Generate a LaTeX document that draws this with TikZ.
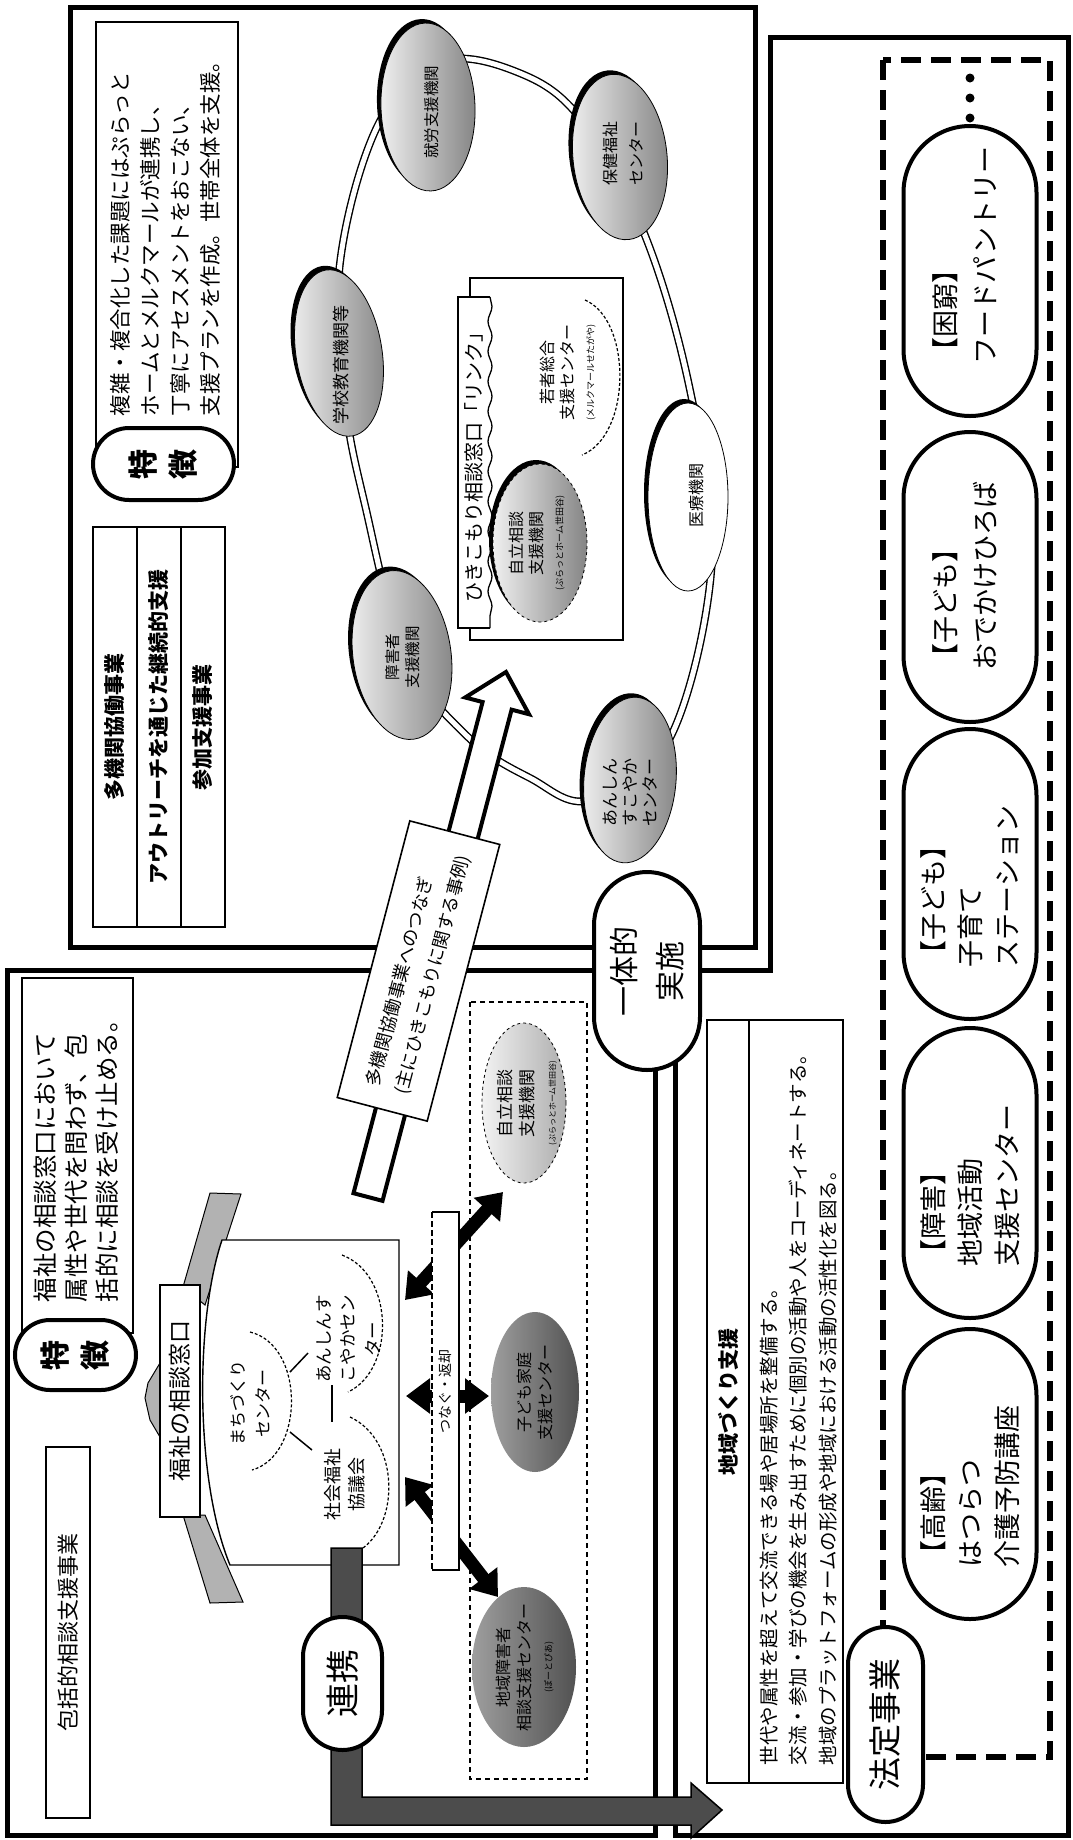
\documentclass[tikz,border=0pt]{standalone}
\usepackage{fontspec}
\setmainfont{Noto Sans CJK JP}
\usetikzlibrary{shapes.geometric,shapes.misc,shadows,calc,arrows.meta,decorations.pathmorphing}
\newcommand{\myfs}[2]{\fontsize{#1pt}{#2pt}\selectfont}
\begin{document}
\begin{tikzpicture}[x=1pt,y=-1pt,
  every node/.style={inner sep=0pt,outer sep=0pt},
  frame/.style={draw,line width=5pt},
  thinbox/.style={draw,line width=1.6pt,fill=white},
  stad/.style={rounded rectangle,draw,line width=4pt,fill=white},
  tx/.style={rotate=90,align=center},
  stipbase/.style={ellipse,draw=black,line width=0.8pt,
    drop shadow={shadow xshift=-4pt,shadow yshift=4pt,fill=black,opacity=1}},
  stip/.style={stipbase,left color=black!6,right color=black!48},
  darkell/.style={ellipse,left color=black!38,right color=black!68},
  blk/.style={line width=13pt,{Triangle[length=24pt,width=34pt]}-{Triangle[length=24pt,width=34pt]}},
  dashbig/.style={line width=6pt,dash pattern=on 20pt off 10pt},
  dashthin/.style={line width=1.2pt,dash pattern=on 5pt off 4pt}
]
\fill[white] (0,0) rectangle (1073,1840);
\useasboundingbox (0,0) rectangle (1073,1840);

% ---------- frames ----------
\draw[frame] (70,7) rectangle (755,947);
\draw[frame] (7,970) rectangle (655,1835);
\draw[frame] (770,37) -- (1068,37) -- (1068,1835) -- (675,1835) -- (675,970) -- (770,970) -- cycle;

% ---------- box A : multi-agency ----------
\node[thinbox,minimum width=142pt,minimum height=445pt] (featA) at (167,244.5) {};
\node[stad,minimum width=141pt,minimum height=72pt] (tokA) at (163.5,464) {};
\node[tx,font={\myfs{30}{40}\bfseries}] at (tokA) {特\\徴};
\node[tx,anchor=west,align=left,font=\myfs{21.5}{30}] (featAtext) at (165,416)
 {複雑・複合化した課題にはぷらっと\\ホームとメルクマールが連携し、\\丁寧にアセスメントをおこない、\\支援プランを作成。世帯全体を支援。};

\node[draw,line width=1.6pt,rotate=90,minimum width=400pt,minimum height=44pt,font={\myfs{21}{24}\bfseries}] (tab1) at (115,727) {多機関協働事業};
\node[draw,line width=1.6pt,rotate=90,minimum width=400pt,minimum height=44pt,font={\myfs{21}{24}\bfseries}] (tab2) at (159,727) {アウトリーチを通じた継続的支援};
\node[draw,line width=1.6pt,rotate=90,minimum width=400pt,minimum height=44pt,font={\myfs{21}{24}\bfseries}] (tab3) at (203,727) {参加支援事業};

% ring
\draw[line width=1.4pt,double=white,double distance=5pt]
  plot[smooth cycle,tension=0.6] coordinates {(340,263) (378,125) (440,62) (517,72) (580,118) (644,233) (690,390) (712,560) (670,738) (590,800) (530,778) (468,737) (405,655) (365,505) (345,400)};

\node[stip,rotate=2,minimum width=94pt,minimum height=168pt] (shuro) at (428,107) {};
\node[tx,font=\myfs{15.5}{20}] at (432,112) {就労支援機関};
\node[stip,rotate=6,minimum width=94pt,minimum height=166pt] (hoken) at (620,157) {};
\node[tx,font=\myfs{16}{26}] at (623,153) {保健福祉\\センター};
\node[stip,rotate=9,minimum width=86pt,minimum height=168pt] (gakko) at (339,353) {};
\node[tx,font=\myfs{17}{22}] at (341,365) {学校教育機関等};
\node[stip,rotate=8,minimum width=98pt,minimum height=170pt] (shogai) at (402,655) {};
\node[tx,font=\myfs{15.5}{20}] at (403,657) {障害者\\支援機関};
\node[stip,rotate=-5,minimum width=92pt,minimum height=166pt] (anshin) at (630,780) {};
\node[tx,font=\myfs{17}{20}] at (630,792) {あんしん\\すこやか\\センター};
\node[stipbase,fill=white,minimum width=80pt,minimum height=188pt] (iryo) at (688,497) {};
\node[tx,font=\myfs{16}{20}] at (696,495) {医療機関};

% hikikomori box
\node[thinbox,minimum width=153pt,minimum height=362pt] (hkbox) at (546.5,459) {};
\node[fill=white,rotate=90,minimum width=331pt,minimum height=32pt,font=\myfs{20}{24}] (hklabel) at (474,462.5) {ひきこもり相談窓口「リンク」};
\draw[line width=1.6pt] (hklabel.south west) -- (hklabel.north west) -- (hklabel.north east) -- (hklabel.south east);
\draw[line width=1.3pt,decorate,decoration={snake,segment length=30pt,amplitude=2pt}] (hklabel.south east) -- (hklabel.south west);
\node[stip,dashed,minimum width=94pt,minimum height=158pt] (jiritsuA) at (540,543) {};
\node[tx,font=\myfs{16}{20}] at (537,543) {自立相談\\支援機関\\{\myfs{9}{12}(ぷらっとホーム世田谷)}};
\draw[densely dashed,line width=1.2pt] (585,300) .. controls (632,320) and (632,435) .. (582,455);
\node[tx,font=\myfs{16}{20}] at (568,372) {若者総合\\支援センター\\{\myfs{9}{12}(メルクマールせたがや)}};

% ---------- hollow arrow ----------
\coordinate (arS) at (368,1197);
\coordinate (arT) at (506,672);
\coordinate (arB) at ($(arT)!35pt!(arS)$);
\draw[line width=4pt,fill=white,line join=miter]
 ($(arS)!15pt!90:(arT)$) -- ($(arB)!15pt!90:(arT)$) -- ($(arB)!33pt!90:(arT)$) -- (arT)
 -- ($(arB)!33pt!-90:(arT)$) -- ($(arB)!15pt!-90:(arT)$) -- ($(arS)!15pt!-90:(arT)$) -- cycle;
\node[thinbox,rotate=75.3,minimum width=286pt,minimum height=93pt] (tsunagi) at (418.5,971) {};
\node[rotate=75.3,align=left,font=\myfs{18}{30}] at (tsunagi) {多機関協働事業へのつなぎ\\(主にひきこもりに関する事例)};

% ---------- box B ----------
\node[thinbox,minimum width=111pt,minimum height=355pt] (featB) at (77.5,1155.5) {};
\node[stad,minimum width=121pt,minimum height=70pt] (tokB) at (75.5,1355) {};
\node[tx,font={\myfs{30}{40}\bfseries}] at (tokB) {特\\徴};
\node[tx,anchor=west,align=left,font=\myfs{24.5}{31}] (featBtext) at (76,1302)
 {福祉の相談窓口において\\属性や世代を問わず、包\\括的に相談を受け止める。};
\node[thinbox,rotate=90,minimum width=371pt,minimum height=44pt,font=\myfs{22}{26}] (houkatsu) at (68,1632.5) {包括的相談支援事業};

% fukushi window graphic
\draw[line width=1pt,fill=black!30] (210,1193) -- (241,1194) -- (205,1305) -- (183,1287) -- cycle;
\draw[line width=1pt,fill=black!30] (183,1515) -- (205,1515) -- (243,1602) -- (210,1603) -- cycle;
\draw[line width=1pt,fill=black!30] (160,1363) -- (148,1383) -- (145,1398) -- (150,1420) -- (160,1437) -- cycle;
\draw[line width=1.4pt,fill=white] (222,1240) -- (399,1240) -- (399,1565) -- (230,1565) .. controls (195,1480) and (195,1320) .. (222,1240) -- cycle;
\node[thinbox,rotate=90,minimum width=232pt,minimum height=40pt,font=\myfs{23}{26}] (fukushi) at (180,1401) {福祉の相談窓口};

\draw[densely dashed,line width=1.2pt] (250,1332) .. controls (305,1345) and (305,1455) .. (252,1470);
\draw[densely dashed,line width=1.2pt] (342,1255) .. controls (395,1275) and (395,1370) .. (348,1392);
\draw[densely dashed,line width=1.2pt] (350,1417) .. controls (400,1440) and (400,1525) .. (360,1550);
\node[tx,font=\myfs{17}{25}] (machi) at (250,1403) {まちづくり\\センター};
\node[tx,font=\myfs{17.5}{24.5}] (anshin2) at (348,1339) {あんしんす\\こやかセン\\ター};
\node[tx,font=\myfs{18}{24}] (shakyo) at (345,1484) {社会福祉\\協議会};
\draw[line width=1.5pt] (290,1372) -- (308,1353);
\draw[line width=1.5pt] (290,1432) -- (312,1450);
\draw[line width=1.5pt] (332,1385) -- (332,1422);

% black double arrows
\coordinate (a1s) at (405,1300); \coordinate (a1e) at (503,1192);
\coordinate (a2s) at (406,1396); \coordinate (a2e) at (489,1396);
\coordinate (a3s) at (405,1477); \coordinate (a3e) at (498,1597);
\draw[blk] (a1s) -- (a1e);
\draw[blk] (a2s) -- (a2e);
\draw[blk] (a3s) -- (a3e);

% tsunagu bar
\node[rotate=90,minimum width=358pt,minimum height=27pt,fill=white] (tsunagu) at (445.5,1391) {};
\draw[line width=1.3pt] (432,1212) -- (459,1212) -- (459,1570) -- (432,1570);
\draw[line width=1.3pt,dash pattern=on 6pt off 3pt] (432,1212) -- (432,1570);
\node[tx,font=\myfs{14}{16}] at (tsunagu) {つなぐ・返却};

% dashed group on the right of box B
\draw[dashthin] (470,1002) rectangle (587,1779);
\node[ellipse,draw,dashed,line width=0.8pt,left color=black!5,right color=black!32,minimum width=84pt,minimum height=160pt] (jiritsuB) at (524,1103) {};
\node[tx,font=\myfs{17}{22}] at (527,1103) {自立相談\\支援機関\\{\myfs{8}{10}(ぷらっとホーム世田谷)}};
\node[darkell,minimum width=88pt,minimum height=160pt] (ellB) at (535,1392) {};
\node[tx,font=\myfs{16}{21}] at (535,1392) {子ども家庭\\支援センター};
\node[darkell,minimum width=104pt,minimum height=160pt] (ellC) at (524,1667) {};
\node[tx,font=\myfs{16}{21}] at (525,1667) {地域障害者\\相談支援センター\\{\myfs{9}{12}(ぽーとぴあ)}};

% hatched link bar and renkei
\draw[line width=1.5pt,fill=black!70] (331,1548) -- (362,1548) -- (362,1797) -- (691,1797) -- (691,1783) -- (722,1810) -- (691,1838) -- (691,1825) -- (331,1825) -- cycle;
\node[stad,rotate=90,minimum width=133pt,minimum height=79pt,font=\myfs{34}{38}] (renkei) at (342.5,1683.5) {連携};

% ---------- ittai ----------
\node[stad,rotate=90,minimum width=198pt,minimum height=106pt,font=\myfs{30}{46},align=center] (ittai) at (647,971) {一体的\\実施};

% ---------- chiiki-zukuri ----------
\node[thinbox,rotate=90,minimum width=763pt,minimum height=136pt] (chiiki) at (775,1401.5) {};
\draw[line width=1.4pt] (749,1020) -- (749,1783);
\node[tx,font={\myfs{21}{24}\bfseries}] at (728,1401.5) {地域づくり支援};
\node[tx,anchor=west,align=left,font=\myfs{19.5}{29.5}] (chiikitext) at (798.5,1765)
 {世代や属性を超えて交流できる場や居場所を整備する。\\交流・参加・学びの機会を生み出すために個別の活動や人をコーディネートする。\\地域のプラットフォームの形成や地域における活動の活性化を図る。};

% ---------- box C : statutory ----------
\draw[dashbig] (883,60) rectangle (1050,1757);
\fill (970,78) circle (4.5pt);
\fill (970,98) circle (4.5pt);
\fill (970,118) circle (4.5pt);
\node[stad,rotate=90,minimum width=290pt,minimum height=133pt] (o1) at (970,271) {};
\node[stad,rotate=90,minimum width=290pt,minimum height=133pt] (o2) at (970,577) {};
\node[stad,rotate=90,minimum width=290pt,minimum height=133pt] (o3) at (970,874) {};
\node[stad,rotate=90,minimum width=290pt,minimum height=133pt] (o4) at (970,1173) {};
\node[stad,rotate=90,minimum width=290pt,minimum height=133pt] (o5) at (970,1474) {};
\node[tx,anchor=west,align=left,font=\myfs{27}{40}] at (965,364) {【困窮】\\フードパントリー};
\node[tx,anchor=west,align=left,font=\myfs{27}{40}] at (965,670) {【子ども】\\おでかけひろば};
\node[tx,anchor=west,align=left,font=\myfs{27}{37}] at (970,967) {【子ども】\\子育て\\ステーション};
\node[tx,anchor=west,align=left,font=\myfs{27}{37}] at (970,1266) {【障害】\\地域活動\\支援センター};
\node[tx,anchor=west,align=left,font=\myfs{27}{37}] at (970,1567) {【高齢】\\はつらつ\\介護予防講座};
\node[stad,rotate=90,minimum width=195pt,minimum height=75pt,font=\myfs{33}{36}] (hotei) at (885.5,1724.5) {法定事業};
\end{tikzpicture}
\end{document}
